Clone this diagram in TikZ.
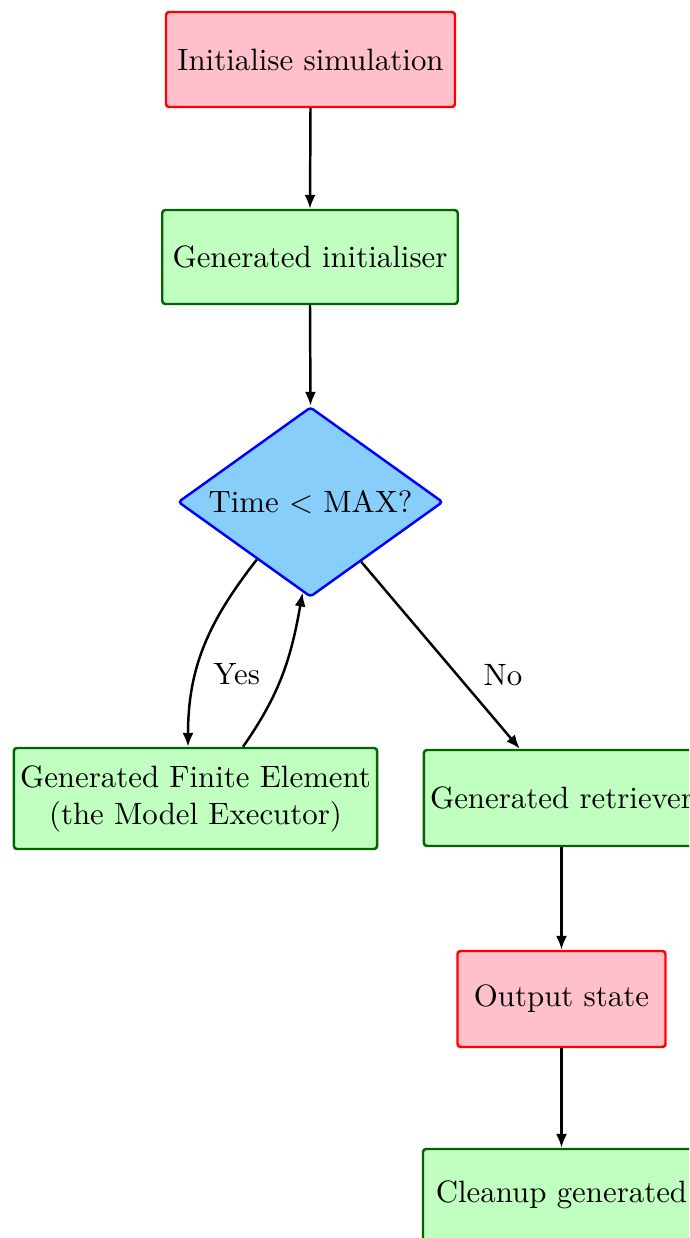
\documentclass[tikz,border=0pt]{standalone}
\usetikzlibrary{shapes.geometric,arrows.meta,calc}
\definecolor{boxpink}{RGB}{255,192,203}
\definecolor{boxgreen}{RGB}{192,255,192}
\definecolor{boxgreenline}{RGB}{0,100,0}
\definecolor{decblue}{RGB}{135,206,250}
\def\pxu{0.324pt}
\begin{document}
\begin{tikzpicture}[x=0.324pt,y=-0.324pt,
  base/.style={draw,thick,rounded corners=1pt,align=center},
  startstop/.style={base,fill=boxpink,draw=red},
  process/.style={base,fill=boxgreen,draw=boxgreenline},
  decision/.style={diamond,draw=blue,thick,fill=decblue,aspect=1.4,
    inner sep=0pt,rounded corners=1pt},
  flow/.style={thick,-{Latex[length=4.5pt,width=3.6pt]}},
  lbl/.style={anchor=base,inner sep=0pt}]
  % page frame (the chart runs off the right and bottom edges)
  \useasboundingbox (0,0) rectangle (689,1238);
  \clip (0,0) rectangle (689,1238);

  % boxes
  \node[startstop,minimum width=289*\pxu,minimum height=95*\pxu]
    (init) at (310.5,59.5) {Initialise simulation};
  \node[process,minimum width=294*\pxu,minimum height=94*\pxu]
    (geninit) at (310,257) {Generated initialiser};
  \node[decision,minimum width=265*\pxu,minimum height=190*\pxu]
    (dec) at (310.5,502) {Time $<$ MAX?};
  \node[process,inner xsep=2pt,minimum height=101*\pxu]
    (fe) at (195.5,798.5) {Generated Finite Element\\(the Model Executor)};
  \node[process,inner xsep=2pt,minimum height=96*\pxu]
    (ret) at (561.5,798) {Generated retriever};
  \node[startstop,minimum width=208*\pxu,minimum height=96*\pxu]
    (out) at (561.5,999) {Output state};
  \node[process,minimum width=277*\pxu,anchor=base,
    text height=13.84pt,text depth=40pt]
    (clean) at (561.5,1202) {Cleanup generated};

  % connectors
  \draw[flow] (init.south) -- (geninit.north);
  \draw[flow] (geninit.south) -- (dec.north);
  \draw[flow] (dec.-133) .. controls +(-48.6,62.2) and +(0,-79) ..
    ($(fe.north)+(-7.5,0)$);
  \draw[flow] ($(fe.north)+(47.5,0)$) .. controls +(37.6,-53.7) and +(-11.4,64.6) ..
    (dec.-95);
  \draw[flow] (dec) -- (ret);
  \draw[flow] (ret.south) -- (out.north);
  \draw[flow] (out.south) -- (clean.north);

  % branch labels
  \node[lbl] (yes) at (236.7,684) {Yes};
  \node[lbl] (no) at (503,685) {No};
\end{tikzpicture}
\end{document}
